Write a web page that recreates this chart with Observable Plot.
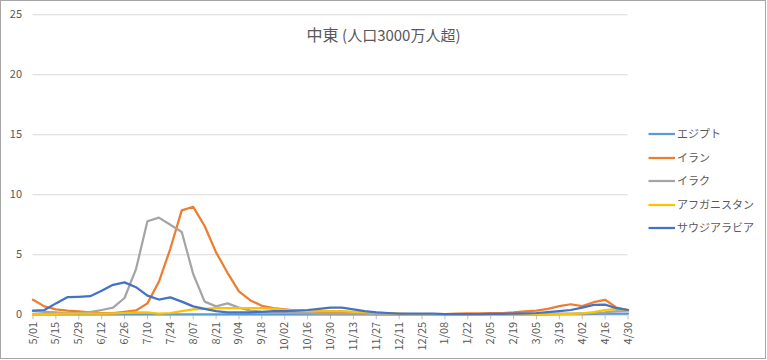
<!DOCTYPE html>
<html>
<head>
<meta charset="utf-8">
<script src="https://cdn.jsdelivr.net/npm/d3@7"></script>
<script src="https://cdn.jsdelivr.net/npm/@observablehq/plot@0.6"></script>
<style>
  html, body { margin: 0; padding: 0; background: #fff; }
  body { font-family: "Noto Sans CJK JP", "Noto Sans", sans-serif; }
  #wrap { position: relative; width: 767px; height: 360px; overflow: hidden; }
  #wrap svg.plot { position: absolute; left: 0; top: 0; }
  #frame { position: absolute; left: 0; top: 0; width: 766px; height: 359px; box-sizing: border-box; border: 1px solid #A6A6A6; pointer-events: none; }
  #title { position: absolute; left: 0; width: 767px; top: 24px; text-align: center; color: #595959; white-space: pre; line-height: 20px; }
  #title .main { font-size: 16px; }
  #title .sub { font-size: 15px; }
  #legend { position: absolute; left: 648px; top: 0; color: #595959; font-size: 11px; }
  #legend .item { position: absolute; left: 0; white-space: nowrap; height: 14px; line-height: 14px; }
  #legend .item svg { position: absolute; left: 0; top: 0; }
  #legend .item span { position: absolute; left: 29px; top: -1px; }
</style>
</head>
<body>
<div id="wrap">
  <div id="title"><span class="main">中東 </span><span class="sub">(人口3000万人超)</span></div>
  <div id="legend"></div>
  <div id="frame"></div>
</div>
<script>
// x tick labels (every two weeks, 2020-05-01 .. 2021-04-30)
const tickLabels = ["5/01","5/15","5/29","6/12","6/26","7/10","7/24","8/07","8/21","9/04","9/18","10/02","10/16","10/30","11/13","11/27","12/11","12/25","1/08","1/22","2/05","2/19","3/05","3/19","4/02","4/16","4/30"];
const yTicks = [0, 5, 10, 15, 20, 25];

const seriesNames = ["エジプト", "イラン", "イラク", "アフガニスタン", "サウジアラビア"];
const seriesColors = ["#5B9BD5", "#ED7D31", "#A5A5A5", "#FFC000", "#4472C4"];

// weekly values
const egypt = [
  0.03,0.03,0.03,0.03,0.03,0.03,0.03,0.03,0.03,0.03,
  0.03,0.03,0.03,0.03,0.03,0.03,0.03,0.03,0.03,0.03,
  0.03,0.03,0.03,0.03,0.03,0.03,0.03,0.03,0.03,0.03,
  0.03,0.03,0.03,0.03,0.03,0.03,0.03,0.03,0.03,0.03,
  0.03,0.03,0.03,0.03,0.03,0.03,0.05,0.05,0.05,0.08,
  0.1,0.1,0.1];
const iran = [
  1.25,0.7,0.45,0.35,0.28,0.2,0.15,0.15,0.25,0.36,
  0.95,2.75,5.5,8.7,9.0,7.4,5.2,3.5,1.95,1.2,
  0.75,0.55,0.45,0.35,0.3,0.25,0.2,0.2,0.15,0.1,
  0.05,0.05,0.05,0.05,0.05,0.05,0.05,0.1,0.12,0.12,
  0.13,0.15,0.2,0.28,0.35,0.5,0.72,0.88,0.72,1.05,
  1.25,0.6,0.4];
const iraq = [
  0.3,0.25,0.2,0.15,0.15,0.22,0.4,0.6,1.4,3.8,
  7.8,8.1,7.5,6.9,3.4,1.1,0.7,0.95,0.6,0.35,
  0.25,0.2,0.2,0.15,0.15,0.1,0.1,0.1,0.1,0.1,
  0.05,0.05,0.05,0.05,0.05,0.05,0.05,0.05,0.05,0.05,
  0.05,0.05,0.05,0.05,0.05,0.08,0.1,0.1,0.12,0.15,
  0.2,0.3,0.35];
const afghanistan = [
  0.05,0.05,0.08,0.1,0.1,0.1,0.1,0.12,0.15,0.2,
  0.2,0.1,0.15,0.3,0.45,0.5,0.55,0.55,0.55,0.55,
  0.55,0.5,0.42,0.35,0.3,0.3,0.3,0.3,0.25,0.22,
  0.18,0.15,0.1,0.05,0.05,0.05,0.05,0.05,0.05,0.05,
  0.05,0.05,0.05,0.05,0.05,0.05,0.05,0.08,0.12,0.22,
  0.4,0.5,0.4];
const saudi = [
  0.35,0.4,0.95,1.47,1.5,1.55,2.0,2.5,2.7,2.3,
  1.6,1.27,1.45,1.1,0.7,0.5,0.3,0.2,0.2,0.2,
  0.25,0.3,0.3,0.35,0.4,0.5,0.6,0.6,0.45,0.3,
  0.2,0.15,0.1,0.1,0.1,0.1,0.05,0.05,0.05,0.05,
  0.08,0.08,0.1,0.12,0.15,0.22,0.3,0.4,0.6,0.82,
  0.85,0.55,0.4];

const seriesValues = [egypt, iran, iraq, afghanistan, saudi];
const weeks = d3.range(egypt.length);
const tickIdx = tickLabels.map((_, k) => k * 2);

const lineMarks = seriesValues.map((vals, s) =>
  Plot.line(weeks, {
    x: d => d, y: d => vals[d],
    stroke: seriesColors[s], strokeWidth: 2.25,
    strokeLinejoin: "round", strokeLinecap: "round"
  })
);

const chart = Plot.plot({
  width: 767, height: 360,
  marginLeft: 32.5, marginRight: 139.5, marginTop: 14.3, marginBottom: 45.7,
  x: { domain: [0, weeks.length - 1] },
  y: { domain: [0, 25] },
  style: { fontFamily: '"Noto Sans CJK JP", "Noto Sans", sans-serif', fontSize: "11px", color: "#595959", background: "transparent" },
  marks: [
    Plot.gridY(yTicks, { stroke: "#D9D9D9", strokeOpacity: 1 }),
    Plot.axisY(yTicks, { tickSize: 0, tickPadding: 11, label: null, fill: "#595959" }),
    Plot.ruleY([0], { stroke: "#BFBFBF", strokeWidth: 1 }),
    Plot.axisX(tickIdx, {
      tickRotate: -90, tickSize: 5, tickPadding: 2, label: null,
      tickFormat: d => tickLabels[d / 2], stroke: "#BFBFBF", fill: "#595959"
    }),
    ...lineMarks
  ]
});
chart.classList.add("plot");
document.getElementById("wrap").prepend(chart);

// legend
const legendTops = [127, 150.5, 174, 197.5, 221];
const legend = document.getElementById("legend");
seriesNames.forEach((name, s) => {
  const item = document.createElement("div");
  item.className = "item";
  item.style.top = legendTops[s] + "px";
  item.innerHTML = `<svg width="28" height="14"><line x1="0.5" x2="27" y1="7" y2="7" stroke="${seriesColors[s]}" stroke-width="2.25"/></svg><span>${name}</span>`;
  legend.appendChild(item);
});
</script>
</body>
</html>
